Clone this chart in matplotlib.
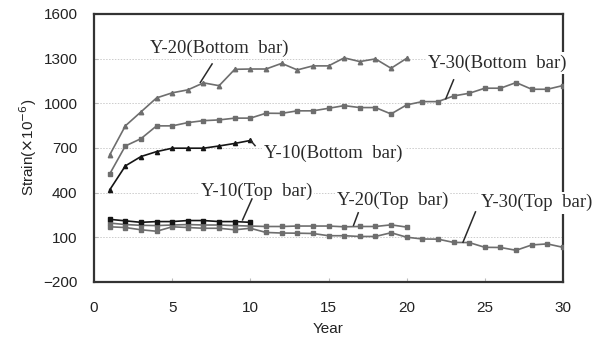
# Strain history of bottom and top bars for Y-10, Y-20, Y-30
import matplotlib.pyplot as plt
import numpy as np

# X axis (years)
years_10 = np.arange(1, 11)
years_20 = np.arange(1, 21)
years_30 = np.arange(1, 31)

# Bottom bar strain (x10^-6)
Y10_bottom = [418, 579, 642, 675, 698, 698, 698, 713, 730, 750]
Y20_bottom = [653, 848, 942, 1036, 1070, 1090, 1137, 1118, 1228, 1230,
              1230, 1268, 1224, 1251, 1251, 1305, 1280, 1298, 1235, 1302]
Y30_bottom = [525, 713, 762, 848, 848, 870, 883, 888, 900, 900,
              933, 932, 949, 949, 966, 984, 971, 971, 928, 989,
              1011, 1011, 1049, 1067, 1101, 1101, 1139, 1094, 1094, 1119]

# Top bar strain (x10^-6)
Y10_top = [220, 210, 200, 205, 205, 212, 212, 205, 205, 200]
Y20_top = [195, 185, 180, 178, 182, 185, 182, 182, 178, 175,
           172, 172, 175, 175, 175, 170, 172, 172, 183, 168]
Y30_top = [170, 165, 150, 140, 170, 165, 160, 160, 150, 160,
           132, 128, 127, 125, 110, 110, 105, 105, 130, 100,
           88, 87, 65, 64, 32, 31, 12, 48, 55, 32]

yticks = [-200, 100, 400, 700, 1000, 1300, 1600]
xticks = [0, 5, 10, 15, 20, 25, 30]

gray = '#6e6e6e'
dark = '#151515'

fig = plt.figure(figsize=(6.07, 3.40), dpi=100)
ax = fig.add_axes([0.155, 0.171, 0.7725, 0.788])

for v in yticks[1:-1]:
    ax.axhline(v, color='#cccccc', lw=0.7, ls=(0, (1.5, 1.5)), zorder=0)

ax.plot(years_20, Y20_bottom, color=gray, lw=1.2, marker='^', ms=3.2, zorder=3)
ax.plot(years_30, Y30_bottom, color=gray, lw=1.2, marker='s', ms=2.4, zorder=3)
ax.plot(years_10, Y10_bottom, color=dark, lw=1.2, marker='^', ms=3.0, zorder=4)

ax.plot(years_30, Y30_top, color=gray, lw=1.2, marker='s', ms=2.8, zorder=3)
ax.plot(years_20, Y20_top, color=gray, lw=1.2, marker='s', ms=2.8, zorder=3)
ax.plot(years_10, Y10_top, color=dark, lw=1.2, marker='s', ms=3.0, zorder=4)

ax.set_xlim(0, 30)
ax.set_ylim(-200, 1600)
ax.set_xticks(xticks)
ax.set_yticks(yticks)
ax.set_yticklabels(['\u2212200', '100', '400', '700', '1000', '1300', '1600'])
ax.tick_params(direction='in', length=3, color='#bbbbbb', labelsize=11,
               labelcolor='#222222')
ax.tick_params(axis='x', pad=14)
ax.tick_params(axis='y', pad=12)
for lab in ax.get_xticklabels() + ax.get_yticklabels():
    lab.set_family('Liberation Sans')
for s in ax.spines.values():
    s.set_linewidth(1.6)
    s.set_color('#333333')

ax.set_xlabel('Year', family='Liberation Sans', fontsize=11, color='#222222',
              labelpad=5)
ax.set_ylabel(r'Strain($\times$10$^{-6}$)', family='Liberation Sans',
              fontsize=11, color='#222222', labelpad=3)

# series labels with leader lines
labels = [
    ('Y-20(Bottom  bar)', (8.0, 1372), 'center', [(7.55, 1264), (6.8, 1140)]),
    ('Y-30(Bottom  bar)', (25.8, 1271), 'center', [(23.0, 1157), (22.5, 1030)]),
    ('Y-10(Bottom  bar)', (10.9, 666), 'left', [(10.0, 752), (10.3, 715)]),
    ('Y-10(Top  bar)', (10.4, 411), 'center', [(10.1, 357), (9.5, 216)]),
    ('Y-20(Top  bar)', (19.1, 351), 'center', [(16.9, 264), (16.6, 180)]),
    ('Y-30(Top  bar)', (28.3, 331), 'center', [(24.4, 270), (23.6, 66)]),
]
for text, (tx, ty), ha, leader in labels:
    ax.text(tx, ty, text, ha=ha, va='center', family='Liberation Serif',
            fontsize=13.5, color='#2a2a2a', zorder=6, clip_on=False,
            bbox=dict(facecolor='white', edgecolor='none', pad=1.5))
    lx, ly = zip(*leader)
    ax.plot(lx, ly, color='#2a2a2a', lw=1.1, zorder=7, clip_on=False)

fig.savefig('out.png', dpi=100)
